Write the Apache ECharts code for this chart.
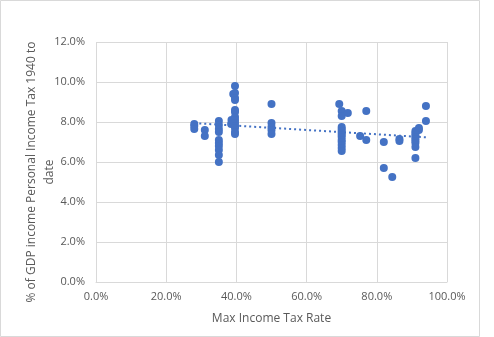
<!DOCTYPE html>
<html>
<head>
<meta charset="utf-8">
<script src="https://cdn.jsdelivr.net/npm/echarts@6/dist/echarts.min.js"></script>
<style>html,body{margin:0;padding:0;background:#fff}#c{width:494px;height:337px}</style>
</head>
<body>
<div id="c"></div>
<script>
// Max income tax rate (%) and income tax as % of GDP (%), paired by index
const taxRate = [
  28, 28, 28,
  31, 31,
  35, 35, 35, 35, 35, 35, 35, 35, 35, 35,
  38.5, 38.6, 39.1,
  39.6, 39.6, 39.6, 39.6, 39.6, 39.6, 39.6, 39.6, 39.6, 39.6, 39.6, 39.6, 39.6,
  50, 50, 50, 50, 50,
  69.3,
  70, 70, 70, 70, 70, 70, 70, 70, 70, 70, 70, 70, 70,
  71.75, 75.25, 77, 77,
  82, 82, 84.4,
  86.45, 86.45,
  91, 91, 91, 91, 91, 91, 91, 91, 91,
  92, 92, 94, 94
];
const gdpShare = [
  7.9, 7.8, 7.65,
  7.6, 7.3,
  8.05, 7.85, 7.65, 7.5, 7.1, 6.95, 6.8, 6.6, 6.35, 6.0,
  7.9, 8.1, 9.4,
  9.8, 9.45, 9.2, 9.1, 8.6, 8.5, 8.25, 8.1, 7.95, 7.8, 7.7, 7.5, 7.4,
  8.9, 7.95, 7.75, 7.6, 7.4,
  8.9,
  8.55, 8.3, 7.75, 7.65, 7.55, 7.45, 7.35, 7.25, 7.1, 7.0, 6.85, 6.7, 6.55,
  8.45, 7.3, 8.55, 7.1,
  7.0, 5.7, 5.25,
  7.15, 7.05,
  7.55, 7.45, 7.35, 7.25, 7.15, 7.05, 6.95, 6.75, 6.2,
  7.6, 7.7, 8.8, 8.05
];
const xTicks = [0, 20, 40, 60, 80, 100];
const yTicks = [0, 2, 4, 6, 8, 10, 12];

const points = taxRate.map((x, i) => [x, gdpShare[i]]);
// linear least-squares trendline across the data range
const n = points.length;
let sx = 0, sy = 0, sxx = 0, sxy = 0;
points.forEach(([x, y]) => { sx += x; sy += y; sxx += x * x; sxy += x * y; });
const slope = (n * sxy - sx * sy) / (n * sxx - sx * sx);
const icpt = (sy - slope * sx) / n;
const xmin = Math.min(...taxRate), xmax = Math.max(...taxRate);
const trend = [[xmin, icpt + slope * xmin], [xmax, icpt + slope * xmax]];

const FONT = 'Open Sans';
const GREY = '#595959';
const chart = echarts.init(document.getElementById('c'));
chart.setOption({
  animation: false,
  backgroundColor: '#fff',
  grid: { left: 96, right: 47, top: 42, bottom: 55 },
  xAxis: {
    type: 'value', min: xTicks[0], max: xTicks[xTicks.length - 1], interval: 20,
    name: 'Max Income Tax Rate', nameLocation: 'middle', nameGap: 31,
    nameTextStyle: { color: GREY, fontFamily: FONT, fontSize: 12 },
    axisLine: { show: true, lineStyle: { color: '#d9d9d9' } },
    axisTick: { show: false },
    axisLabel: { color: GREY, fontFamily: FONT, fontSize: 11, margin: 9,
      formatter: v => v.toFixed(1) + '%' },
    splitLine: { show: true, lineStyle: { color: '#d9d9d9' } }
  },
  yAxis: {
    type: 'value', min: yTicks[0], max: yTicks[yTicks.length - 1], interval: 2,
    axisLine: { show: false },
    axisTick: { show: false },
    axisLabel: { color: GREY, fontFamily: FONT, fontSize: 11, margin: 11,
      formatter: v => v.toFixed(1) + '%' },
    splitLine: { show: true, lineStyle: { color: '#d9d9d9' } }
  },
  graphic: [
    { type: 'rect', silent: true, z: -1,
      shape: { x: 0.5, y: 0.5, width: 479, height: 336 },
      style: { fill: 'none', stroke: '#d9d9d9', lineWidth: 1 } },
    { type: 'text', x: 41, y: 172, rotation: Math.PI / 2,
      style: { text: '% of GDP income Personal Income Tax 1940 to\ndate',
        fill: GREY, font: '12px "Open Sans"', align: 'center', verticalAlign: 'middle',
        lineHeight: 18 } }
  ],
  series: [
    { type: 'scatter', data: points, symbol: 'circle', symbolSize: 8,
      itemStyle: { color: '#4472C4', opacity: 1 }, z: 3 },
    { type: 'line', data: trend, symbol: 'none', z: 2,
      lineStyle: { color: '#4472C4', width: 2, type: [2, 3] } }
  ]
});
</script>
</body>
</html>
